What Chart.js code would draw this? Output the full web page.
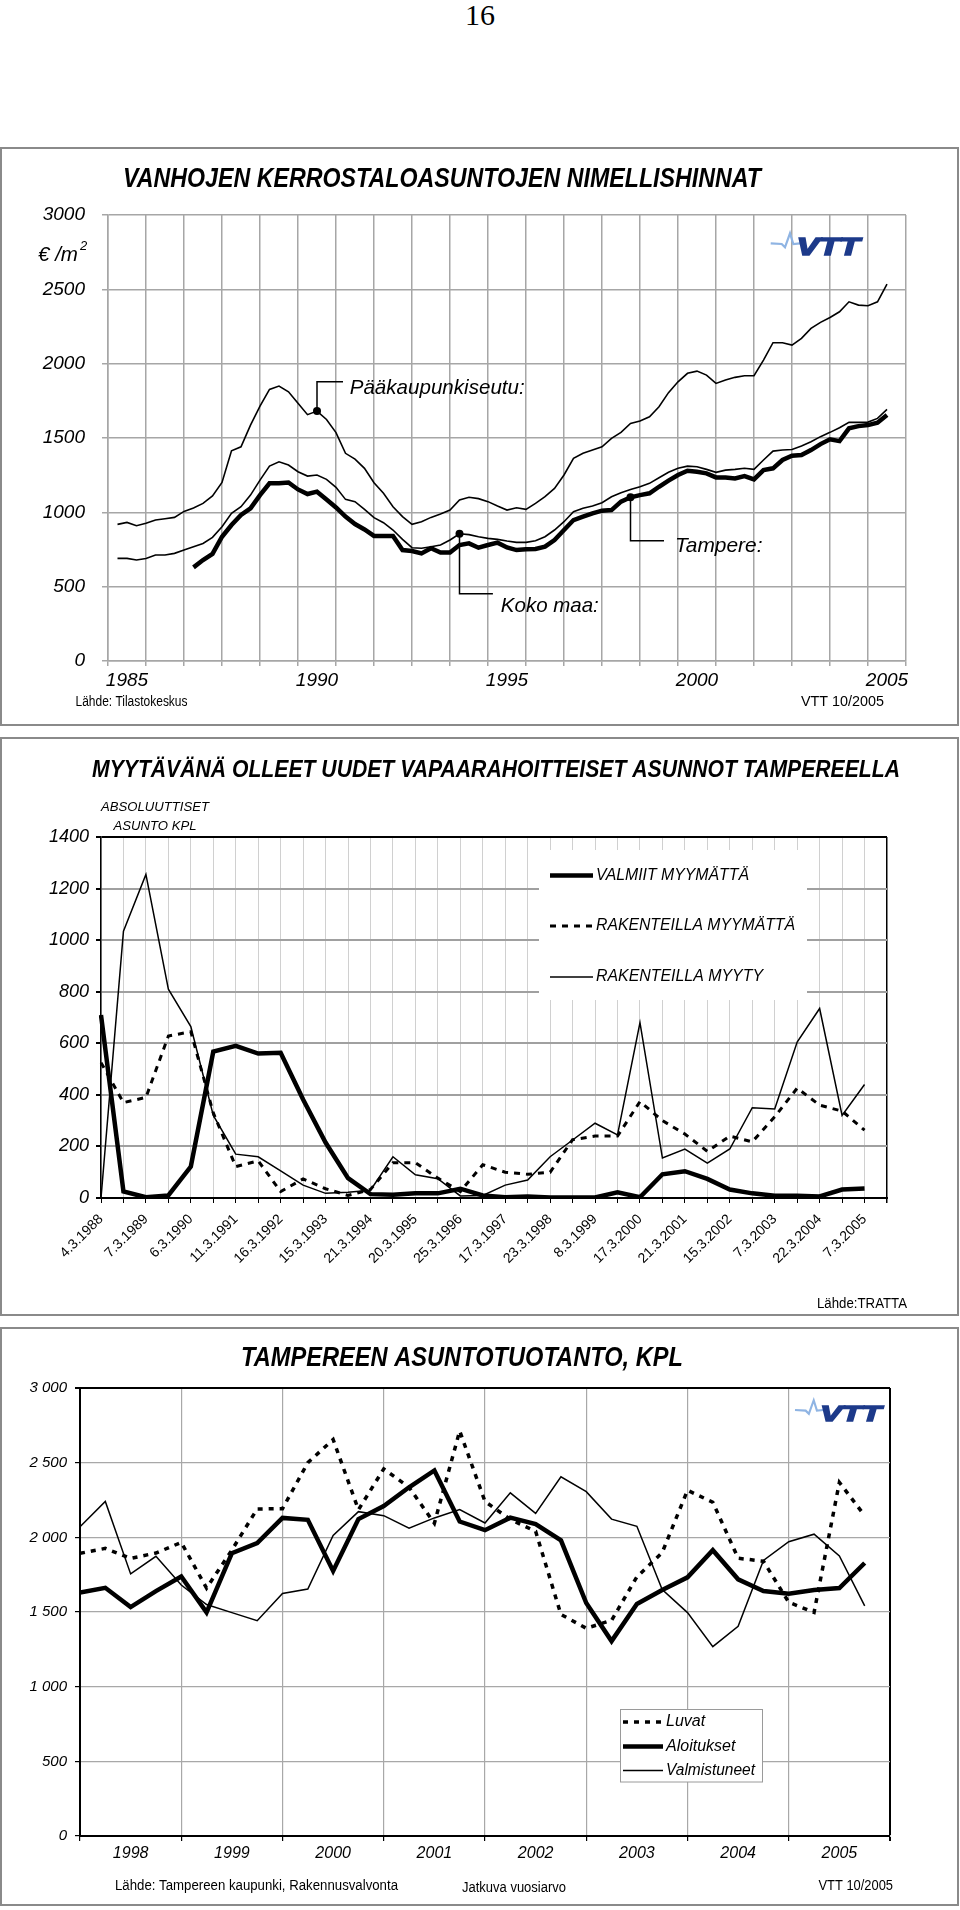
<!DOCTYPE html>
<html>
<head>
<meta charset="utf-8">
<script src="https://cdn.jsdelivr.net/npm/chart.js@4.4.0/dist/chart.umd.min.js"></script>
<style>
body { margin: 0; background: #fff; }
#page { position: relative; width: 960px; height: 1910px; }
#pnum { position: absolute; left: 0; top: 0; width: 960px; text-align: center;
        font: 30px "Liberation Serif", serif; line-height: 30px; }
canvas { position: absolute; left: 0; }
</style>
</head>
<body>
<div id="page">
  <div id="pnum">16</div>
  <canvas id="c1" width="960" height="580" style="top:147px"></canvas>
  <canvas id="c2" width="960" height="580" style="top:737px"></canvas>
  <canvas id="c3" width="960" height="580" style="top:1327px"></canvas>
</div>
<script>
/******* chart 1 data: quarterly prices, euro / m2 *******/
const start1 = 1985.25;          // first quarter shown
const startTampere = 1987.25;
const yearLabels1 = ['1985', '1990', '1995', '2000', '2005'];
const paakaupunkiseutu = [919, 932, 910, 926, 948, 957, 966, 1006, 1029, 1060,
  1110, 1201, 1414, 1441, 1587, 1715, 1827, 1849, 1811, 1733,
  1657, 1681, 1625, 1536, 1397, 1358, 1296, 1199, 1128, 1038,
  971, 919, 937, 966, 989, 1015, 1083, 1101, 1092, 1072,
  1042, 1015, 1031, 1020, 1060, 1105, 1161, 1251, 1363, 1397,
  1419, 1441, 1497, 1538, 1598, 1614, 1643, 1710, 1805, 1878,
  1935, 1950, 1923, 1867, 1890, 1908, 1919, 1919, 2024, 2141,
  2141, 2125, 2170, 2237, 2278, 2311, 2349, 2416, 2394, 2390,
  2416, 2535];
const kokoMaa = [690, 690, 679, 690, 713, 713, 724, 746, 769, 791, 832,
  903, 993, 1038, 1116, 1217, 1311, 1340, 1318, 1273, 1244, 1251, 1222,
  1168, 1087, 1072, 1020, 964, 930, 881, 818, 762, 758, 769, 780,
  814, 856, 850, 836, 825, 818, 807, 798, 798, 809, 836, 881,
  937, 1004, 1027, 1042, 1065, 1105, 1132, 1154, 1172, 1195, 1233, 1269,
  1296, 1311, 1307, 1289, 1269, 1284, 1289, 1296, 1289, 1352, 1412, 1419,
  1423, 1446, 1475, 1509, 1538, 1569, 1605, 1605, 1607, 1632, 1692];
const tampere = [630, 679, 720, 836, 915, 982, 1027, 1116, 1195, 1195, 1201,
  1154, 1123, 1139, 1087, 1033, 971, 921, 885, 841, 841, 841, 746,
  740, 724, 758, 729, 729, 780, 791, 762, 780, 796, 764, 746,
  751, 753, 769, 814, 881, 948, 971, 993, 1011, 1015, 1072, 1101,
  1116, 1128, 1172, 1213, 1251, 1280, 1273, 1262, 1235, 1235, 1228, 1244,
  1222, 1284, 1296, 1352, 1381, 1385, 1419, 1459, 1491, 1479, 1565, 1580,
  1587, 1603, 1654];

/******* chart 2 data: half-yearly counts *******/
const marchDates = ['4.3.1988', '7.3.1989', '6.3.1990', '11.3.1991', '16.3.1992',
  '15.3.1993', '21.3.1994', '20.3.1995', '25.3.1996', '17.3.1997', '23.3.1998',
  '8.3.1999', '17.3.2000', '21.3.2001', '15.3.2002', '7.3.2003', '22.3.2004', '7.3.2005'];
const valmiitMyymatta = [710, 25, 3, 10, 122, 568, 590, 560, 563, 382, 215, 77,
  15, 13, 18, 18, 36, 10, 3, 6, 2, 2, 2, 22, 3, 92, 104, 74, 33, 18, 9, 9, 6, 33, 37];
const rakenteillaMyymatta = [525, 370, 390, 628, 645, 330, 122, 144, 25, 74, 36, 10,
  33, 137, 137, 77, 25, 129, 100, 92, 100, 226, 240, 240, 374, 300, 248, 181, 240,
  218, 315, 426, 360, 337, 263];
const rakenteillaMyyty = [0, 1035, 1255, 810, 665, 320, 170, 160, 105, 50, 18, 22,
  30, 160, 90, 75, 8, 10, 50, 70, 160, 225, 290, 245, 680, 155, 190, 135, 190, 350,
  345, 605, 735, 320, 440];

/******* chart 3 data: quarterly, rolling yearly value *******/
const start3 = 1998;
const yearLabels3 = ['1998', '1999', '2000', '2001', '2002', '2003', '2004', '2005'];
const luvat = [1893, 1926, 1859, 1895, 1966, 1660, 1915, 2190, 2192, 2500, 2655, 2185,
  2458, 2335, 2094, 2712, 2240, 2120, 2040, 1484, 1391, 1444, 1735, 1898, 2315, 2235,
  1860, 1840, 1565, 1497, 2368, 2145];
const aloitukset = [1630, 1662, 1533, 1640, 1738, 1498, 1894, 1962, 2130, 2117, 1775,
  2122, 2210, 2335, 2448, 2106, 2048, 2132, 2088, 1980, 1560, 1305, 1554, 1647, 1732,
  1914, 1719, 1641, 1622, 1647, 1660, 1828];
const valmistuneet = [2071, 2240, 1755, 1873, 1681, 1550, 1496, 1442, 1624, 1654, 2012,
  2172, 2145, 2062, 2130, 2186, 2096, 2298, 2160, 2405, 2306, 2122, 2074, 1650, 1496,
  1268, 1404, 1845, 1971, 2021, 1875, 1541];

/******* setup *******/
const FONT = '"Liberation Sans", Arial, sans-serif';
Chart.defaults.font.family = FONT;
Chart.defaults.color = '#000';
Chart.defaults.animation = false;
Chart.defaults.events = [];
Chart.defaults.plugins.legend.display = false;
Chart.defaults.plugins.tooltip.enabled = false;

const quarters = (start, vals) => vals.map((v, i) => ({ x: start + i * 0.25, y: v }));
const halfYearTicks = (from, to) => {
  const t = [];
  for (let k = 0; k <= (to - from) * 2; k++) t.push({ value: from + k / 2 });
  return t;
};
const isYear = v => Number.isInteger(v);

// text, optionally squeezed/stretched to a given width (the original uses a narrow face)
function put(ctx, s, x, y, font, o = {}) {
  ctx.save();
  ctx.font = font;
  ctx.fillStyle = o.color || '#000';
  ctx.textBaseline = 'middle';
  ctx.textAlign = 'left';
  const w = ctx.measureText(s).width;
  const fw = o.width || w;
  let left = x;
  if (o.align === 'right') left = x - fw;
  if (o.align === 'center') left = x - fw / 2;
  ctx.translate(left, y);
  ctx.scale(fw / w, 1);
  ctx.fillText(s, 0, 0);
  ctx.restore();
}
function sample(ctx, x1, x2, y, width, dash) {
  ctx.save();
  ctx.strokeStyle = '#000';
  ctx.lineWidth = width;
  ctx.setLineDash(dash || []);
  ctx.beginPath(); ctx.moveTo(x1, y); ctx.lineTo(x2, y); ctx.stroke();
  ctx.restore();
}
function drawLogo(ctx, x, y, s) {
  ctx.save();
  ctx.translate(x, y); ctx.scale(s, s);
  ctx.strokeStyle = '#8fb4e3'; ctx.lineWidth = 2.2;
  ctx.beginPath();
  ctx.moveTo(0, 11.3); ctx.lineTo(11, 12); ctx.lineTo(14.3, 15.3);
  ctx.lineTo(19.3, 1.3); ctx.lineTo(22.6, 12); ctx.lineTo(29.3, 11.3);
  ctx.stroke();
  ctx.fillStyle = '#1d3a8a'; ctx.strokeStyle = '#1d3a8a'; ctx.lineWidth = 1.6;
  ctx.font = 'italic bold 23px ' + FONT;
  const w = ctx.measureText('VTT').width;
  ctx.translate(26, 23); ctx.scale(63 / w, 1);
  ctx.fillText('VTT', 0, 0);
  ctx.strokeText('VTT', 0, 0);
  ctx.restore();
}
const framePlugin = {
  id: 'frame',
  beforeDraw(chart) {
    const c = chart.ctx;
    c.save();
    c.fillStyle = '#fff'; c.fillRect(0, 0, chart.width, chart.height);
    c.strokeStyle = '#8a8a8a'; c.lineWidth = 2;
    c.strokeRect(1, 1, 957, 577);
    c.restore();
  }
};

/******* chart 1 *******/
const callouts1 = [
  { ds: 0, idx: 21, text: 'Pääkaupunkiseutu:', dy: -29.3, dx: 26, tx: 32.7, ty: -23, w: 175 },
  { ds: 1, idx: 36, text: 'Koko maa:', dy: 60, dx: 33.4, tx: 41.3, ty: 72.7, w: 98 },
  { ds: 2, idx: 46, text: 'Tampere:', dy: 43.5, dx: 33.5, tx: 44.5, ty: 49.2, w: 87.5 }
];
const deco1 = {
  id: 'deco1',
  afterDatasetsDraw(chart) {
    const ctx = chart.ctx;
    callouts1.forEach(c => {
      const p = chart.getDatasetMeta(c.ds).data[c.idx];
      ctx.save();
      ctx.strokeStyle = '#000'; ctx.lineWidth = 1.5;
      ctx.beginPath();
      ctx.moveTo(p.x, p.y); ctx.lineTo(p.x, p.y + c.dy); ctx.lineTo(p.x + c.dx, p.y + c.dy);
      ctx.stroke();
      ctx.restore();
      put(ctx, c.text, p.x + c.tx, p.y + c.ty, 'italic 21px ' + FONT, { width: c.w });
    });
  },
  afterDraw(chart) {
    const ctx = chart.ctx;
    put(ctx, 'VANHOJEN KERROSTALOASUNTOJEN NIMELLISHINNAT', 123, 33, 'italic bold 27px ' + FONT, { width: 638 });
    put(ctx, '€ /m', 38, 108, 'italic 20px ' + FONT, { width: 40 });
    put(ctx, '2', 80, 99, 'italic 13px ' + FONT);
    put(ctx, 'Lähde: Tilastokeskus', 75.5, 555.6, '14px ' + FONT, { width: 112 });
    put(ctx, 'VTT 10/2005', 801, 555.6, '14px ' + FONT, { width: 83 });
    drawLogo(ctx, 770.7, 85, 1);
  }
};
const dotAt = idx => ctx => (ctx.dataIndex === idx ? 4 : 0);

new Chart(document.getElementById('c1'), {
  type: 'line',
  data: {
    datasets: [
      { data: quarters(start1, paakaupunkiseutu), borderColor: '#000', borderWidth: 1.6,
        pointRadius: dotAt(21), pointBackgroundColor: '#000', pointBorderWidth: 0 },
      { data: quarters(start1, kokoMaa), borderColor: '#000', borderWidth: 1.6,
        pointRadius: dotAt(36), pointBackgroundColor: '#000', pointBorderWidth: 0 },
      { data: quarters(startTampere, tampere), borderColor: '#000', borderWidth: 4.5,
        pointRadius: dotAt(46), pointBackgroundColor: '#000', pointBorderWidth: 0 }
    ]
  },
  options: {
    responsive: false,
    layout: { padding: { left: 0, top: 68, right: 54, bottom: 0 } },
    elements: { line: { tension: 0 } },
    scales: {
      x: {
        type: 'linear', min: 1985, max: 2006,
        afterBuildTicks: s => { s.ticks = halfYearTicks(1985, 2006); },
        afterFit: s => { s.height = 66; },
        ticks: {
          autoSkip: false, maxRotation: 0, padding: 3,
          font: { size: 19, style: 'italic' },
          callback: v => (yearLabels1.includes(String(v - 0.5)) ? String(v - 0.5) : '')
        },
        grid: {
          color: c => (isYear(c.tick.value) ? '#a6a6a6' : 'rgba(0,0,0,0)'),
          tickColor: c => (isYear(c.tick.value) ? '#a6a6a6' : 'rgba(0,0,0,0)'),
          lineWidth: 1.5, tickLength: 5
        },
        border: { color: '#a6a6a6', width: 1.5 }
      },
      y: {
        min: 0, max: 3000,
        afterFit: s => { s.width = 108; },
        ticks: { stepSize: 500, padding: 17, font: { size: 19, style: 'italic' }, callback: v => String(v) },
        grid: { color: '#a6a6a6', lineWidth: 1.5, tickLength: 6 },
        border: { color: '#a6a6a6', width: 1.5 }
      }
    }
  },
  plugins: [framePlugin, deco1]
});

/******* chart 2 *******/
const labels2 = [];
marchDates.forEach(d => { labels2.push(d); labels2.push(''); });

const deco2 = {
  id: 'deco2',
  beforeDatasetsDraw(chart) {
    const ctx = chart.ctx;
    ctx.save(); ctx.fillStyle = '#fff'; ctx.fillRect(539, 113, 268, 150); ctx.restore();
    sample(ctx, 550, 593, 138.5, 4.5);
    sample(ctx, 550, 593, 189, 3, [6, 6]);
    sample(ctx, 550, 593, 240, 1.5);
    put(ctx, 'VALMIIT MYYMÄTTÄ', 596, 138.5, 'italic 16px ' + FONT, { width: 153 });
    put(ctx, 'RAKENTEILLA MYYMÄTTÄ', 596, 189, 'italic 16px ' + FONT, { width: 199 });
    put(ctx, 'RAKENTEILLA MYYTY', 596, 240, 'italic 16px ' + FONT, { width: 167 });
  },
  afterDraw(chart) {
    const ctx = chart.ctx;
    put(ctx, 'MYYTÄVÄNÄ OLLEET UUDET VAPAARAHOITTEISET ASUNNOT TAMPEREELLA', 92, 33,
      'italic bold 24px ' + FONT, { width: 808 });
    put(ctx, 'ABSOLUUTTISET', 155, 70.7, 'italic 13px ' + FONT, { width: 108, align: 'center' });
    put(ctx, 'ASUNTO KPL', 155, 89.4, 'italic 13px ' + FONT, { width: 83, align: 'center' });
    put(ctx, 'Lähde:TRATTA', 907, 567, '14px ' + FONT, { width: 90, align: 'right' });
  }
};

new Chart(document.getElementById('c2'), {
  type: 'line',
  data: {
    labels: labels2,
    datasets: [
      { data: valmiitMyymatta, borderColor: '#000', borderWidth: 4.5, pointRadius: 0 },
      { data: rakenteillaMyymatta, borderColor: '#000', borderWidth: 3, borderDash: [6, 6], pointRadius: 0 },
      { data: rakenteillaMyyty, borderColor: '#000', borderWidth: 1.5, pointRadius: 0 }
    ]
  },
  options: {
    responsive: false,
    layout: { padding: { left: 0, top: 100, right: 73, bottom: 0 } },
    elements: { line: { tension: 0 } },
    scales: {
      x: {
        type: 'category', offset: false,
        afterFit: s => { s.height = 119; },
        ticks: { autoSkip: false, minRotation: 45, maxRotation: 45, padding: 8, font: { size: 14 } },
        grid: {
          color: c => (c.index === labels2.length - 1 ? '#000' : '#d0d0d0'),
          lineWidth: c => (c.index === labels2.length - 1 ? 1.5 : 1),
          tickColor: '#000', tickLength: 5
        },
        border: { color: '#000', width: 2 }
      },
      y: {
        min: 0, max: 1400,
        afterFit: s => { s.width = 101; },
        ticks: { stepSize: 200, padding: 7, font: { size: 18, style: 'italic' }, callback: v => String(v) },
        grid: {
          color: c => (c.tick.value === 1400 ? '#000' : '#a0a0a0'),
          lineWidth: 2, tickColor: '#000', tickLength: 5
        },
        border: { color: '#000', width: 1.5 }
      }
    }
  },
  plugins: [framePlugin, deco2]
});

/******* chart 3 *******/
const deco3 = {
  id: 'deco3',
  afterDraw(chart) {
    const ctx = chart.ctx;
    put(ctx, 'TAMPEREEN ASUNTOTUOTANTO, KPL', 241, 31.8, 'italic bold 27px ' + FONT, { width: 442 });
    drawLogo(ctx, 795, 72, 0.97);
    ctx.save();
    ctx.fillStyle = '#fff'; ctx.fillRect(620, 382.5, 142.6, 72.5);
    ctx.strokeStyle = '#9a9a9a'; ctx.lineWidth = 1; ctx.strokeRect(620.5, 382.5, 142, 72.5);
    ctx.restore();
    sample(ctx, 623, 663, 395, 3.5, [5, 6]);
    sample(ctx, 623, 663, 419.6, 4.5);
    sample(ctx, 623, 663, 443.4, 1.5);
    put(ctx, 'Luvat', 666, 395, 'italic 16px ' + FONT);
    put(ctx, 'Aloitukset', 666, 419.6, 'italic 16px ' + FONT);
    put(ctx, 'Valmistuneet', 666, 443.4, 'italic 16px ' + FONT, { width: 89 });
    put(ctx, 'Lähde: Tampereen kaupunki, Rakennusvalvonta', 115, 559, '14px ' + FONT, { width: 283 });
    put(ctx, 'Jatkuva vuosiarvo', 462, 561, '14px ' + FONT, { width: 104 });
    put(ctx, 'VTT 10/2005', 818.5, 559, '14px ' + FONT, { width: 74.5 });
  }
};

new Chart(document.getElementById('c3'), {
  type: 'line',
  data: {
    datasets: [
      { data: quarters(start3, luvat), borderColor: '#000', borderWidth: 3.5, borderDash: [5, 6], pointRadius: 0 },
      { data: quarters(start3, aloitukset), borderColor: '#000', borderWidth: 4.5, pointRadius: 0 },
      { data: quarters(start3, valmistuneet), borderColor: '#000', borderWidth: 1.5, pointRadius: 0 }
    ]
  },
  options: {
    responsive: false,
    layout: { padding: { left: 0, top: 61, right: 70, bottom: 0 } },
    elements: { line: { tension: 0 } },
    scales: {
      x: {
        type: 'linear', min: 1998, max: 2006,
        afterBuildTicks: s => { s.ticks = halfYearTicks(1998, 2006); },
        afterFit: s => { s.height = 71; },
        ticks: {
          autoSkip: false, maxRotation: 0, padding: 3,
          font: { size: 16, style: 'italic' },
          callback: v => (yearLabels3.includes(String(v - 0.5)) ? String(v - 0.5) : '')
        },
        grid: {
          color: c => (!isYear(c.tick.value) ? 'rgba(0,0,0,0)' : (c.tick.value === 2006 ? '#000' : '#a8a8a8')),
          lineWidth: c => (c.tick.value === 2006 ? 2 : 1.2),
          tickColor: c => (isYear(c.tick.value) ? '#000' : 'rgba(0,0,0,0)'),
          tickLength: 5
        },
        border: { color: '#000', width: 2 }
      },
      y: {
        min: 0, max: 3000,
        afterFit: s => { s.width = 80; },
        ticks: {
          stepSize: 500, padding: 8, font: { size: 15, style: 'italic' },
          callback: v => (v >= 1000 ? Math.floor(v / 1000) + ' ' + String(v % 1000).padStart(3, '0') : String(v))
        },
        grid: {
          color: c => (c.tick.value === 3000 ? '#000' : '#a8a8a8'),
          lineWidth: c => (c.tick.value === 3000 ? 2 : 1.2),
          tickColor: '#000', tickLength: 5
        },
        border: { color: '#000', width: 2 }
      }
    }
  },
  plugins: [framePlugin, deco3]
});
</script>
</body>
</html>
